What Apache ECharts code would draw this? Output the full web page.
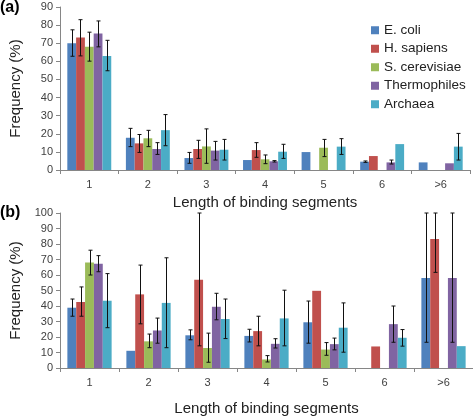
<!DOCTYPE html>
<html><head><meta charset="utf-8">
<script src="https://cdn.jsdelivr.net/npm/echarts@6/dist/echarts.min.js"></script>
<style>html,body{margin:0;padding:0;background:#fff}#c{width:473px;height:417px}</style>
</head><body><div id="c"></div>
<script>
var categories = ['1','2','3','4','5','6','>6'];
var seriesNames = ['E. coli','H. sapiens','S. cerevisiae','Thermophiles','Archaea'];
var colors = ['#4F81BD','#C0504D','#9BBB59','#8064A2','#4BACC6'];

// Panel (a) values
var aEcoli  = [70, 17.8, 6.6, 5.5, 9.9, 4.6, 4.2];
var aHsap   = [73.2, 14.7, 11.6, 11, null, 7.7, null];
var aScer   = [68, 17.5, 13, 5.9, 12.3, null, null];
var aTherm  = [75.4, 11.6, 10.7, 4.8, null, 4.2, 3.7];
var aArch   = [63, 22, 11.2, 10.1, 12.9, 14.3, 12.9];
// Panel (a) error bars [low, high]
var aEcoliErr = [[62.8,77.4],[12.9,23],[3.7,9.7],null,null,[4.2,5.0],null];
var aHsapErr  = [[63,83],[9.7,19.6],[6.4,16.4],[7,15.1],null,null,null];
var aScerErr  = [[60.1,76.1],[12.9,21.9],[3.7,22.7],[3.5,8.3],[7.4,16.9],null,null];
var aThermErr = [[68,82.3],[8.6,15.1],[5.5,15.8],[4.4,5.2],null,[3.3,5.5],null];
var aArchErr  = [[54.8,71.6],[13.4,30.6],[5.5,16.9],[6.4,14.2],[8.6,17.3],null,[5.5,20.2]];

// Panel (b) values
var bEcoli  = [38.9, 11.1, 21.1, 20.7, 29.5, null, 58];
var bHsap   = [42.6, 47.5, 57, 23.8, 49.8, 13.9, 83.2];
var bScer   = [68, 17.2, 12.9, 5.5, 11.9, null, null];
var bTherm  = [67.2, 24.2, 39.5, 15.6, 15.4, 28.3, 58];
var bArch   = [43.4, 42, 31.6, 32, 26, 19.5, 14.1];
var bEcoliErr = [[33.4,44.5],null,[18.2,24.6],[16.8,25],[16,43.2],null,[16.6,100]];
var bHsapErr  = [[33.4,52.3],[28.5,66.4],[14.3,100],[14.3,33.4],null,null,[61.7,100]];
var bScerErr  = [[60,76],[13.1,21.9],[3.7,22.5],[3.9,8],[8.2,16.4],null,null];
var bThermErr = [[62.1,72.5],[16,32.2],[31.1,48.2],[12.9,18.9],[11.7,19.3],[16.6,40],[16.6,100]];
var bArchErr  = [[26,60.9],[13.1,71.1],[19,44.5],[14.3,50.2],[10.2,42],[14.1,24.8],null];

var aYTicks = {min:0, max:90, interval:10};
var bYTicks = {min:0, max:100, interval:10};

var FONT = 'Liberation Sans';
var chart = echarts.init(document.getElementById('c'), null, {renderer:'canvas'});

function errRender(si){
  return function(params, api){
    var x = api.value(0), lo = api.value(1), hi = api.value(2);
    var catW = api.size([1,0])[0];
    var bw = catW*0.75/5;
    var p1 = api.coord([x, lo]), p2 = api.coord([x, hi]);
    var cx = Math.round(p1[0] + (si-2)*bw) + 0.5;
    var cap = 2;
    var st = {stroke:'#111', lineWidth:1};
    return {type:'group', children:[
      {type:'line', shape:{x1:cx,y1:p1[1],x2:cx,y2:p2[1]}, style:st},
      {type:'line', shape:{x1:cx-cap,y1:p2[1],x2:cx+cap,y2:p2[1]}, style:st},
      {type:'line', shape:{x1:cx-cap,y1:p1[1],x2:cx+cap,y2:p1[1]}, style:st}
    ]};
  };
}
function errData(arr){
  var out=[];
  arr.forEach(function(e,i){ if(e) out.push([i,e[0],e[1]]); });
  return out;
}

var series = [];
function addPanel(gi, vals, errs){
  vals.forEach(function(v, si){
    series.push({type:'bar', name:seriesNames[si], xAxisIndex:gi, yAxisIndex:gi,
      data:v.map(function(x){return x==null?'-':x;}), barGap:'0%', barCategoryGap:'25%',
      itemStyle:{color:colors[si]}, z:2});
  });
  errs.forEach(function(e, si){
    series.push({type:'custom', xAxisIndex:gi, yAxisIndex:gi, renderItem:errRender(si),
      data:errData(e), z:5, silent:true});
  });
}
addPanel(0, [aEcoli,aHsap,aScer,aTherm,aArch], [aEcoliErr,aHsapErr,aScerErr,aThermErr,aArchErr]);
addPanel(1, [bEcoli,bHsap,bScer,bTherm,bArch], [bEcoliErr,bHsapErr,bScerErr,bThermErr,bArchErr]);

var axisLine = {show:true, lineStyle:{color:'#868686', width:1}};
var axisTick = {show:true, length:4, lineStyle:{color:'#868686'}};
function xAxis(gi, gap){
  return {type:'category', gridIndex:gi, data:categories, axisLine:axisLine, axisTick:axisTick,
    axisLabel:{fontFamily:FONT, fontSize:11, color:'#404040', margin:9},
    name:'Length of binding segments', nameLocation:'middle', nameGap:gap,
    nameTextStyle:{fontFamily:FONT, fontSize:15, color:'#222'}};
}
function yAxis(gi, t){
  return {type:'value', gridIndex:gi, min:t.min, max:t.max, interval:t.interval,
    axisLine:axisLine, axisTick:axisTick, splitLine:{show:false},
    axisLabel:{fontFamily:FONT, fontSize:11, color:'#404040', margin:7},
    name:'Frequency (%)', nameLocation:'middle', nameGap:37,
    nameTextStyle:{fontFamily:FONT, fontSize:15, color:'#222'}};
}

chart.setOption({
  animation:false,
  textStyle:{fontFamily:FONT},
  grid:[{left:50, right:3, top:7, height:163},{left:54, right:0, top:213, height:162}],
  xAxis:[xAxis(0, 25), xAxis(1, 33)],
  yAxis:[yAxis(0, aYTicks), yAxis(1, bYTicks)],
  legend:{data:seriesNames, orient:'vertical', left:366, top:17, itemWidth:8, itemHeight:8,
    itemGap:2, icon:'rect', textStyle:{fontFamily:FONT, fontSize:13.5, color:'#222', lineHeight:16.5}},
  graphic:[
    {type:'text', left:0, top:0, style:{text:'(a)', font:'bold 16px '+FONT, fill:'#000'}},
    {type:'text', left:0, top:205, style:{text:'(b)', font:'bold 16px '+FONT, fill:'#000'}}
  ],
  series:series
});
</script></body></html>
